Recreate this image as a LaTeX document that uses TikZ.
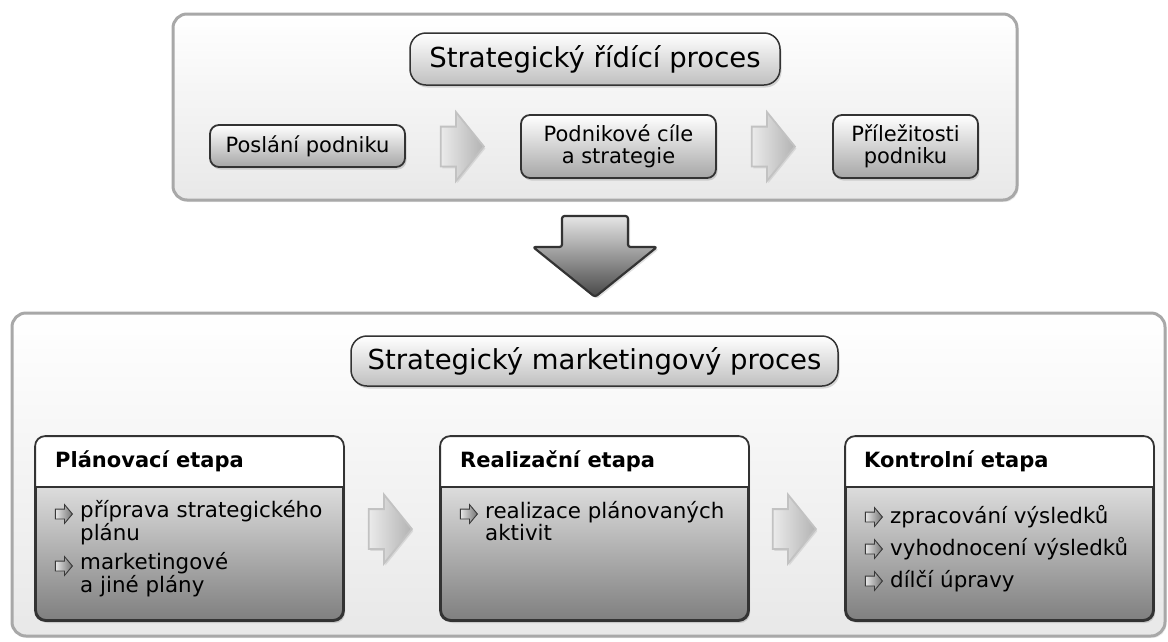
\documentclass[tikz,border=0pt]{standalone}
\usepackage{fontspec}
\setmainfont{DejaVu Sans}
\usetikzlibrary{shadows,shapes.arrows}
\definecolor{contborder}{HTML}{A8A8A8}
\definecolor{boxborder}{HTML}{333333}
\newcommand\titlefont{\fontsize{27.5}{30}\selectfont}
\newcommand\nodefont{\fontsize{21}{22}\selectfont}
\newcommand\bodyfont{\fontsize{21.4}{20}\selectfont}
\begin{document}
\begin{tikzpicture}[x=1pt,y=-1pt,
  container/.style={draw=contborder, line width=3pt, rounded corners=14pt,
    top color=white, bottom color=black!9,
    drop shadow={opacity=0.15, shadow xshift=1.5pt, shadow yshift=-2pt}},
  pill/.style={draw=boxborder, line width=1.5pt, rounded corners=16pt,
    top color=white, bottom color=black!25, inner sep=0pt, font=\titlefont,
    drop shadow={opacity=0.3, shadow xshift=1.5pt, shadow yshift=-2.5pt}},
  smallbox/.style={draw=boxborder, line width=1.8pt, rounded corners=9pt,
    top color=white, bottom color=black!35, inner sep=0pt, align=center,
    font=\nodefont,
    drop shadow={opacity=0.3, shadow xshift=1.5pt, shadow yshift=-2.5pt}},
  etapa/.style={draw=boxborder, line width=1.8pt, rounded corners=10pt,
    top color=white, middle color=black!10, bottom color=black!50,
    minimum width=307, minimum height=183, inner sep=0pt,
    drop shadow={opacity=0.3, shadow xshift=2pt, shadow yshift=-3pt}},
  rarrow/.style={single arrow, anchor=tip, draw=black!24, line width=1.8pt,
    left color=black!8, right color=black!30,
    single arrow head extend=14.5, single arrow tip angle=102,
    minimum height=43, inner xsep=0pt, inner ysep=19pt,
    drop shadow={opacity=0.2, shadow xshift=1.5pt, shadow yshift=-2pt}},
  darrow/.style={draw=boxborder, line width=2.2pt, rounded corners=2.5pt,
    line join=round, top color=black!10, bottom color=black!72,
    drop shadow={opacity=0.25, shadow xshift=2pt, shadow yshift=-2pt}},
  bullet/.style={single arrow, anchor=tip, draw=black!78, line width=0.9pt,
    left color=black!10, right color=black!55,
    single arrow head extend=4.5, single arrow tip angle=100,
    minimum height=17, inner xsep=0pt, inner ysep=4.5pt},
  head/.style={anchor=base west, inner sep=0pt, font=\fontsize{21}{22}\selectfont\bfseries},
  item/.style={anchor=base west, inner sep=0pt, align=left, font=\bodyfont}
]
\useasboundingbox (0,0) rectangle (1168,641);

% ---------- top container ----------
\node[container, minimum width=844, minimum height=186] (topbox) at (595,107) {};
\node[pill, minimum width=370, minimum height=52] (t1) at (595,59) {Strategický řídící proces};

\node[smallbox, minimum width=195, minimum height=42] (poslani) at (307.5,146) {Poslání podniku};
\node[smallbox, minimum width=195, minimum height=63] (cile) at (618.5,146.5) {Podnikové cíle\\a strategie};
\node[smallbox, minimum width=145, minimum height=63] (prilez) at (905.5,146.5) {Příležitosti\\podniku};

\node[rarrow] (ra1) at (485,146.5) {};
\node[rarrow] (ra2) at (796,146.5) {};

% ---------- down arrow ----------
\path[darrow] (562,216) -- (628,216) -- (628,247) -- (657,247) -- (595,297)
  -- (533,247) -- (562,247) -- cycle;

% ---------- bottom container ----------
\node[container, minimum width=1153, minimum height=323] (botbox) at (588.5,474.5) {};
\node[pill, minimum width=487, minimum height=50] (t2) at (594.5,361) {Strategický marketingový proces};

% etapa boxes
\foreach \nm/\cx in {plan/189.5, real/594.5, kontr/999.5}{
  \node[etapa] (\nm) at (\cx,528.5) {};
  \begin{scope}
    \clip[rounded corners=10pt] (\nm.north west) rectangle (\nm.south east);
    \fill[white] (\nm.north west) rectangle ([yshift=-51pt]\nm.north east);
  \end{scope}
  \draw[boxborder, line width=1.8pt, rounded corners=10pt] (\nm.north west) rectangle (\nm.south east);
  \draw[boxborder, line width=1.8pt] ([yshift=-51pt]\nm.north west) -- ([yshift=-51pt]\nm.north east);
}

\node[rarrow] (ra3) at (413,529) {};
\node[rarrow] (ra4) at (817,529) {};

% Plánovací etapa
\node[head] (planh) at (55,467) {Plánovací etapa};
\node[bullet] (pb1) at (73,514) {};
\node[item] (pi1) at (80,540) {příprava strategického\\plánu};
\node[bullet] (pb2) at (73,566) {};
\node[item] (pi2) at (80,592) {marketingové\\a jiné plány};

% Realizační etapa
\node[head] (realh) at (460,467) {Realizační etapa};
\node[bullet] (rb1) at (478,514) {};
\node[item] (ri1) at (485,540) {realizace plánovaných\\aktivit};

% Kontrolní etapa
\node[head] (kontrh) at (864,467) {Kontrolní etapa};
\node[bullet] (kb1) at (883,517) {};
\node[item] (ki1) at (890,523) {zpracování výsledků};
\node[bullet] (kb2) at (883,549) {};
\node[item] (ki2) at (890,555) {vyhodnocení výsledků};
\node[bullet] (kb3) at (883,581) {};
\node[item] (ki3) at (890,587) {dílčí úpravy};
\end{tikzpicture}
\end{document}
